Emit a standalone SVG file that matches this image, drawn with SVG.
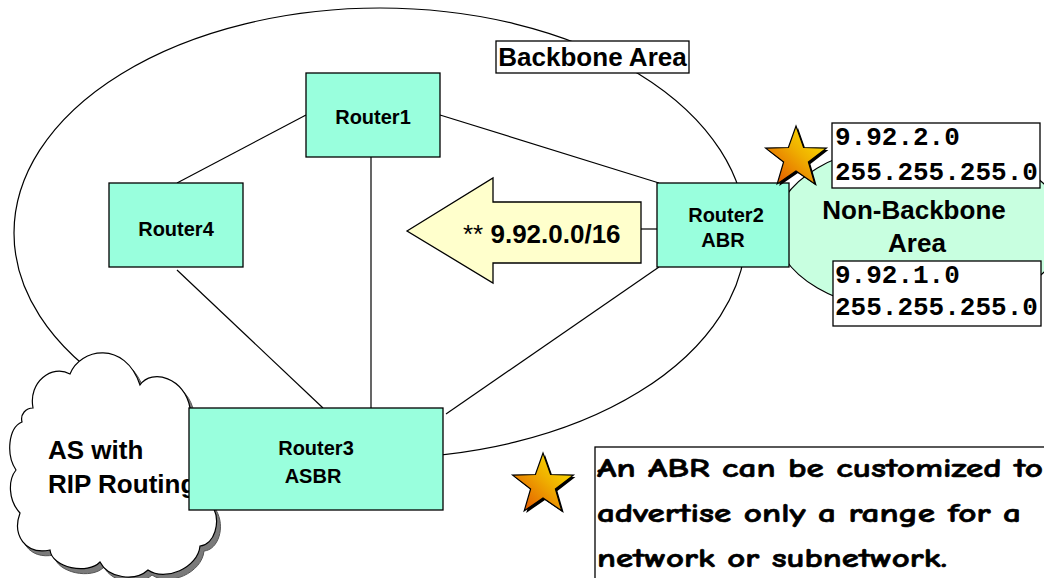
<svg xmlns="http://www.w3.org/2000/svg" width="1044" height="578" viewBox="0 0 1044 578">
<style>
.bg{fill:#ffffff}
.router{fill:#99FFDD;stroke:#000;stroke-width:1.3}
.line{stroke:#000;stroke-width:1.2;fill:none}
.t20{font-family:"Liberation Sans",Arial,sans-serif;font-weight:bold;font-size:20px;fill:#000;text-anchor:middle}
.t26{font-family:"Liberation Sans",Arial,sans-serif;font-weight:bold;font-size:26px;fill:#000}
.mono{font-family:"Liberation Mono","Courier New",monospace;font-weight:bold;font-size:26px;fill:#000}
.comic{font-family:"Comic Sans MS","Comic Neue","DejaVu Sans",sans-serif;font-weight:bold;font-size:26px;fill:#000;stroke:#000;stroke-width:0.6}
.box{fill:#fff;stroke:#000;stroke-width:1.3}
</style>
<defs>
<linearGradient id="starGrad" x1="0" y1="1" x2="1" y2="0">
<stop offset="0" stop-color="#E04800"/>
<stop offset="0.55" stop-color="#F0B000"/>
<stop offset="1" stop-color="#FFF000"/>
</linearGradient>
<path id="starShape" d="M0,-32 L7.6,-10.5 L30.4,-9.9 L12.4,4 L18.8,25.9 L0,13 L-18.8,25.9 L-12.4,4 L-30.4,-9.9 L-7.6,-10.5 Z"/>
<path id="cloudShape" d="M 33 408 C 28 382, 52 364, 70 374 C 80 348, 125 340, 140 385 C 152 368, 185 378, 190 408 L 212 505 C 222 522, 214 545, 200 546 C 198 568, 165 582, 148 570 C 135 582, 108 578, 100 562 C 88 575, 52 568, 50 550 C 25 555, 12 535, 20 513 C 8 500, 8 480, 16 470 C 6 455, 8 428, 22 422 C 20 414, 26 408, 33 408 Z"/>
</defs>
<rect class="bg" x="0" y="0" width="1044" height="578"/>

<g id="backbone-area">
<ellipse cx="380" cy="233" rx="366" ry="225" fill="none" stroke="#000" stroke-width="1.2"/>
</g>

<g id="non-backbone-area">
<ellipse cx="920" cy="228" rx="145" ry="85" fill="#C8FFE0" stroke="#000" stroke-width="1.2"/>
<text class="t26" x="914" y="219" text-anchor="middle">Non-Backbone</text>
<text class="t26" x="917" y="252" text-anchor="middle">Area</text>
</g>

<g id="connectors">
<line class="line" x1="306" y1="115" x2="177" y2="183"/>
<line class="line" x1="440" y1="115" x2="659" y2="183"/>
<line class="line" x1="371" y1="157" x2="371" y2="408"/>
<line class="line" x1="177" y1="270" x2="323" y2="408"/>
<line class="line" x1="659" y1="267" x2="446" y2="414"/>
<line class="line" x1="641" y1="229" x2="657" y2="229"/>
</g>

<g id="summary-arrow">
<polygon points="407,231 493,178 493,202 641,202 641,263 493,263 493,283" fill="#FFFFCC" stroke="#000" stroke-width="1.3"/>
<text class="t26" x="463" y="243"><tspan font-weight="normal">** </tspan>9.92.0.0/16</text>
</g>

<g id="backbone-label">
<rect class="box" x="496" y="41" width="193" height="32"/>
<text class="t26" x="592.5" y="66" text-anchor="middle">Backbone Area</text>
</g>

<g id="router1">
<rect class="router" x="306" y="73" width="134" height="84"/>
<text class="t20" x="373" y="124">Router1</text>
</g>

<g id="router4">
<rect class="router" x="109" y="183" width="134" height="84"/>
<text class="t20" x="176" y="236">Router4</text>
</g>

<g id="router2">
<rect class="router" x="657" y="183" width="132" height="84"/>
<text class="t20" x="726" y="222">Router2</text>
<text class="t20" x="723" y="247">ABR</text>
</g>

<g id="rip-cloud">
<use href="#cloudShape" transform="translate(4,5)" fill="#7a7a7a" stroke="#555" stroke-width="1"/>
<use href="#cloudShape" fill="#fff" stroke="#000" stroke-width="1.2"/>
<text class="t26" x="48" y="459">AS with</text>
<text class="t26" x="48" y="493">RIP Routing</text>
</g>

<g id="router3">
<rect class="router" x="189" y="408" width="254" height="102"/>
<text class="t20" x="316" y="455">Router3</text>
<text class="t20" x="313" y="483">ASBR</text>
</g>

<g id="star-top">
<use href="#starShape" transform="translate(798,160)" fill="#000"/>
<use href="#starShape" transform="translate(796,158)" fill="url(#starGrad)" stroke="#000" stroke-width="1.2"/>
</g>

<g id="net-9-92-2-0">
<rect class="box" x="832" y="123" width="208" height="65"/>
<text class="mono" x="835" y="145">9.92.2.0</text>
<text class="mono" x="835" y="180">255.255.255.0</text>
</g>

<g id="net-9-92-1-0">
<rect class="box" x="833" y="261" width="208" height="65"/>
<text class="mono" x="835" y="283">9.92.1.0</text>
<text class="mono" x="835" y="315">255.255.255.0</text>
</g>

<g id="star-note">
<use href="#starShape" transform="translate(545,487)" fill="#000"/>
<use href="#starShape" transform="translate(543,485)" fill="url(#starGrad)" stroke="#000" stroke-width="1.2"/>
</g>

<g id="note">
<rect class="box" x="595" y="447" width="470" height="150"/>
<text class="comic" x="597" y="477" textLength="446" lengthAdjust="spacingAndGlyphs">An ABR can be customized to</text>
<text class="comic" x="597" y="522" textLength="424" lengthAdjust="spacingAndGlyphs">advertise only a range for a</text>
<text class="comic" x="597" y="567" textLength="350" lengthAdjust="spacingAndGlyphs">network or subnetwork.</text>
</g>
</svg>
